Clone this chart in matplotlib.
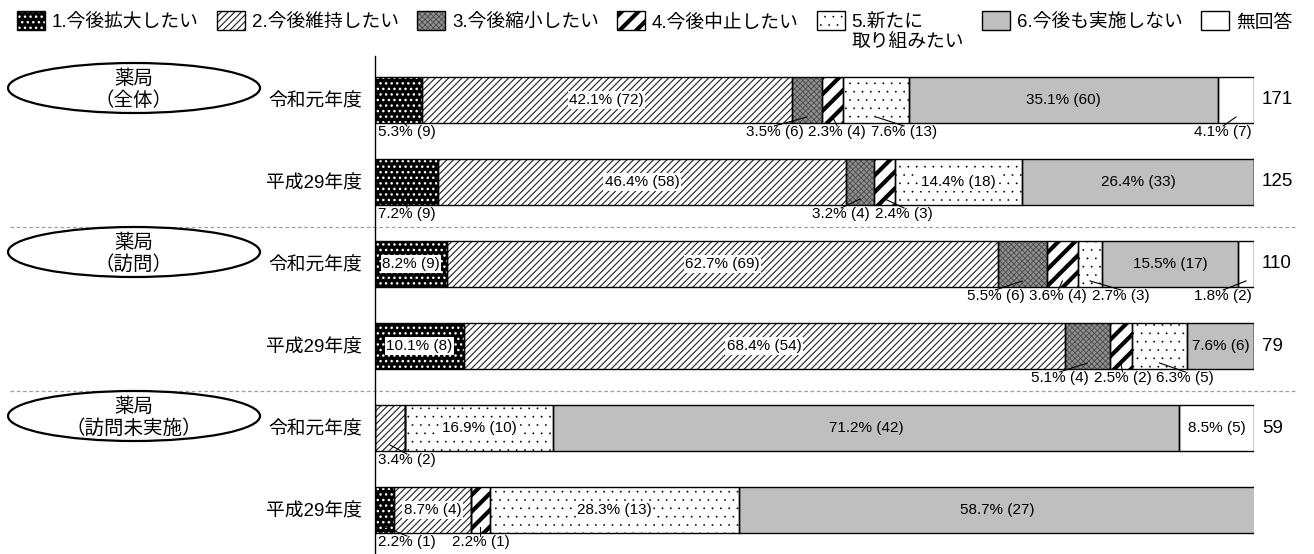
import numpy as np
import matplotlib
matplotlib.use("Agg")
import matplotlib.pyplot as plt
from matplotlib.patches import Ellipse, Rectangle

plt.rcParams['font.family'] = ['Liberation Sans', 'Noto Sans CJK JP']

# ---------------- data ----------------
categories = ['1.今後拡大したい', '2.今後維持したい', '3.今後縮小したい', '4.今後中止したい',
              '5.新たに\n取り組みたい', '6.今後も実施しない', '無回答']
groups = ['薬局\n（全体）', '薬局\n（訪問）', '薬局\n（訪問未実施）']
years = ['令和元年度', '平成29年度']

# percentages per category, rows: 全体R1, 全体H29, 訪問R1, 訪問H29, 未実施R1, 未実施H29
c1 = [5.3, 7.2, 8.2, 10.1, 0.0, 2.2]
c2 = [42.1, 46.4, 62.7, 68.4, 3.4, 8.7]
c3 = [3.5, 3.2, 5.5, 5.1, 0.0, 0.0]
c4 = [2.3, 2.4, 3.6, 2.5, 0.0, 2.2]
c5 = [7.6, 14.4, 2.7, 6.3, 16.9, 28.3]
c6 = [35.1, 26.4, 15.5, 7.6, 71.2, 58.7]
c7 = [4.1, 0.0, 1.8, 0.0, 8.5, 0.0]

n1 = [9, 9, 9, 8, 0, 1]
n2 = [72, 58, 69, 54, 2, 4]
n3 = [6, 4, 6, 4, 0, 0]
n4 = [4, 3, 4, 2, 0, 1]
n5 = [13, 18, 3, 5, 10, 13]
n6 = [60, 33, 17, 6, 42, 27]
n7 = [7, 0, 2, 0, 5, 0]

totals = [171, 125, 110, 79, 59, 46]

pcts = [c1, c2, c3, c4, c5, c6, c7]
cnts = [n1, n2, n3, n4, n5, n6, n7]

# ---------------- styles ----------------
styles = [
    dict(face='black', hatch='...', hcolor='white', hlw=1.0, boxed=True),
    dict(face='white', hatch='/////', hcolor='#202020', hlw=0.8, boxed=True),
    dict(face='#8f8f8f', hatch='xxxxxx', hcolor='#4a4a4a', hlw=0.6, boxed=True),
    dict(face='white', hatch='//', hcolor='black', hlw=3.0, boxed=True),
    dict(face='white', hatch='..', hcolor='black', hlw=0.1, boxed=True),
    dict(face='#bfbfbf', hatch=None, hcolor='#bfbfbf', hlw=1.0, boxed=False),
    dict(face='white', hatch=None, hcolor='white', hlw=1.0, boxed=False),
]

PX_W, PX_H, DPI = 1314, 554, 100
fig = plt.figure(figsize=(PX_W / DPI, PX_H / DPI), dpi=DPI)

AX_L, AX_R, AX_T, AX_B = 375, 1254, 56, 554
ROW0_PX, ROW_STEP = 100, 82.0
ax = fig.add_axes([AX_L / PX_W, 1 - AX_B / PX_H, (AX_R - AX_L) / PX_W, (AX_B - AX_T) / PX_H])

nrows = len(c1)
ypos = np.arange(nrows)
ax.set_xlim(0, 100)
ax.set_ylim((AX_B - ROW0_PX) / ROW_STEP, (AX_T - ROW0_PX) / ROW_STEP)
for s in ['top', 'right', 'bottom']:
    ax.spines[s].set_visible(False)
ax.spines['left'].set_linewidth(1.0)
ax.set_xticks([])
ax.set_yticks(ypos)
ax.set_yticklabels(years * len(groups), fontsize=13.5)
ax.tick_params(axis='y', length=0, pad=9.4)
ax.patch.set_alpha(0)

bar_h = 0.56


def make_fill(ax_, st, *args, **kw):
    with plt.rc_context({'hatch.linewidth': st['hlw']}):
        cont = ax_.barh(*args, color=st['face'], edgecolor=st['hcolor'],
                        hatch=st['hatch'], linewidth=0, **kw)
    for p in cont.patches:
        if hasattr(p, 'set_hatch_linewidth'):
            p.set_hatch_linewidth(st['hlw'])
    return cont


left = np.zeros(nrows)
seg_left = []
for k in range(len(pcts)):
    vals = np.array(pcts[k], dtype=float)
    st = styles[k]
    make_fill(ax, st, ypos, vals, left=left, height=bar_h, zorder=2)
    ax.barh(ypos, vals, left=left, height=bar_h, fill=False, edgecolor='black',
            linewidth=1.0, zorder=3)
    seg_left.append(left.copy())
    left = left + vals

# totals
for i in range(nrows):
    ax.annotate(str(totals[i]), xy=(left[i], ypos[i]), xytext=(8, 0),
                textcoords='offset pixels', ha='left', va='center', fontsize=13.5)

# group ellipses
ELL_CX_PX, ELL_W_PX, ELL_H_PX, ELL_DY_PX = 134, 252, 50, -12
px_per_x = (AX_R - AX_L) / 100.0
for g, name in enumerate(groups):
    cy = 2 * g + ELL_DY_PX / ROW_STEP
    cx = (ELL_CX_PX - AX_L) / px_per_x
    e = Ellipse((cx, cy), ELL_W_PX / px_per_x, ELL_H_PX / ROW_STEP, facecolor='white',
                edgecolor='black', linewidth=1.6, clip_on=False, zorder=4)
    ax.add_patch(e)
    ax.text(cx, cy + 2 / ROW_STEP, name, ha='center', va='center', fontsize=14,
            linespacing=1.25, zorder=5, clip_on=False)

# dashed separators
SEP_X0_PX, SEP_X1_PX = 10, 1295
for g in range(1, len(groups)):
    ysep = 2 * g - 0.5 + 0.05
    ax.plot([(SEP_X0_PX - AX_L) / px_per_x, (SEP_X1_PX - AX_L) / px_per_x], [ysep, ysep],
            color='#a0a0a0', lw=0.9, ls=(0, (3, 2)), clip_on=False, zorder=1)

# ---------------- value labels ----------------
fig.canvas.draw()
rend = fig.canvas.get_renderer()
to_disp = ax.transData.transform
to_data = ax.transData.inverted().transform


def spread(desired, widths, gap, lo, hi):
    n = len(desired)
    clusters = [[j] for j in range(n)]

    def layout(cl):
        total = sum(widths[j] for j in cl) + gap * (len(cl) - 1)
        offs, acc = [], 0.0
        for j in cl:
            offs.append(acc + widths[j] / 2)
            acc += widths[j] + gap
        L = float(np.mean([desired[j] - o for j, o in zip(cl, offs)]))
        L = min(max(L, lo), hi - total)
        return L, total, offs

    changed = True
    while changed:
        changed = False
        for c in range(len(clusters) - 1):
            L1, T1, _ = layout(clusters[c])
            L2, _, _ = layout(clusters[c + 1])
            if L1 + T1 + gap > L2:
                clusters[c] = clusters[c] + clusters[c + 1]
                del clusters[c + 1]
                changed = True
                break
    centers = [0.0] * n
    for cl in clusters:
        L, T, offs = layout(cl)
        for j, o in zip(cl, offs):
            centers[j] = L + o
    return centers


x_lo = to_disp((0, 0))[0] + 3
x_hi = to_disp((100, 0))[0] - 2
LABEL_FS = 11
for i in range(nrows):
    below = []
    for k in range(len(pcts)):
        w = pcts[k][i]
        if w <= 0:
            continue
        x0 = seg_left[k][i]
        xc = x0 + w / 2
        label = f"{w:.1f}% ({cnts[k][i]})"
        t = ax.text(xc, ypos[i], label, ha='center', va='center', fontsize=LABEL_FS, zorder=6)
        tw = t.get_window_extent(rend).width
        seg_px = to_disp((x0 + w, 0))[0] - to_disp((x0, 0))[0]
        if tw + 7.5 <= seg_px:
            if styles[k]['boxed']:
                t.set_bbox(dict(boxstyle='square,pad=0.1', fc='white', ec='none'))
        else:
            t.remove()
            below.append((to_disp((xc, 0))[0], tw, label))
    if below:
        centers = spread([b[0] for b in below], [b[1] for b in below], 5, x_lo, x_hi)
        bot_disp = to_disp((0, ypos[i] + bar_h / 2))[1]
        txt_top = bot_disp - 2
        for (dx, tw, label), cx in zip(below, centers):
            tx, ty = to_data((cx, txt_top))
            ax.text(tx, ty, label, ha='center', va='top', fontsize=LABEL_FS, zorder=6,
                    clip_on=False)
            sx, sy = to_data((dx, bot_disp + 6))
            ex, ey = to_data((cx, txt_top - 1))
            ax.plot([sx, ex], [sy, ey], color='black', lw=0.8, zorder=6, clip_on=False)

# ---------------- legend ----------------
lax = fig.add_axes([0, 0, 1, 1])
lax.set_xlim(0, PX_W)
lax.set_ylim(PX_H, 0)
lax.axis('off')
LEG_X0, LEG_Y, BOX_W, BOX_H = 17, 20.5, 28, 19
LEG_BASE, LEG_STEP = 27.5, 19.5
x = LEG_X0
for k, name in enumerate(categories):
    st = styles[k]
    with plt.rc_context({'hatch.linewidth': st['hlw']}):
        r = Rectangle((x, LEG_Y - BOX_H / 2), BOX_W, BOX_H, facecolor=st['face'],
                      edgecolor=st['hcolor'], hatch=st['hatch'], linewidth=0)
    if st['hatch'] and hasattr(r, 'set_hatch_linewidth'):
        r.set_hatch_linewidth(st['hlw'])
    lax.add_patch(r)
    lax.add_patch(Rectangle((x, LEG_Y - BOX_H / 2), BOX_W, BOX_H, fill=False,
                            edgecolor='black', linewidth=1.0))
    wmax = 0
    for li, line in enumerate(name.split('\n')):
        t = lax.text(x + BOX_W + 7, LEG_BASE + li * LEG_STEP, line, ha='left',
                     va='baseline', fontsize=13.5)
        wmax = max(wmax, t.get_window_extent(rend).width)
    x = x + BOX_W + 7 + wmax + 18

fig.savefig('out.png', dpi=DPI)
